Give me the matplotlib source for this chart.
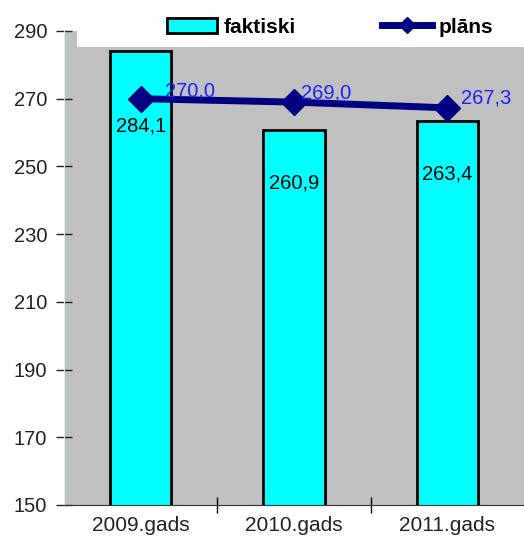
import matplotlib.pyplot as plt
from matplotlib.patches import Rectangle
from matplotlib.lines import Line2D

plt.rcParams['font.family'] = ['Liberation Sans', 'DejaVu Sans']

years = ["2009.gads", "2010.gads", "2011.gads"]
faktiski = [284.1, 260.9, 263.4]
plans = [270.0, 269.0, 267.3]
fakt_labels = ["284,1", "260,9", "263,4"]
plan_labels = ["270,0", "269,0", "267,3"]

fig = plt.figure(figsize=(5.24, 5.41), dpi=100)
ax = fig.add_axes([64 / 524, 1 - 505 / 541, 1 - 64 / 524, (505 - 31) / 541])
ax.set_facecolor("#c0c0c0")

x = range(len(years))
ax.bar(x, faktiski, width=0.4, color="#00ffff", edgecolor="black", linewidth=2, zorder=2)
ax.plot(x, plans, color="#000080", linewidth=5, marker="D", markersize=13, zorder=4)

# white strip on top where the legend sits
ax.add_patch(Rectangle((-0.415, 285.3), 3.0, 10, facecolor="white", edgecolor="none",
                       zorder=3, clip_on=True))

bar_off = [-75, -53, -53]
for i, (v, t) in enumerate(zip(faktiski, fakt_labels)):
    ax.annotate(t, (i, v), xytext=(0, bar_off[i]), textcoords="offset pixels",
                ha="center", va="center", fontsize=14.5, color="black", zorder=5)

line_off = [(24, 8), (7, 9), (14, 10)]
for i, (v, t) in enumerate(zip(plans, plan_labels)):
    ax.annotate(t, (i, v), xytext=line_off[i], textcoords="offset pixels",
                ha="left", va="center", fontsize=14.5, color="#2020ff", zorder=5)

ax.set_xlim(-0.5, 2.5)
ax.set_ylim(150, 290)
ax.set_yticks(range(150, 291, 20))
ax.set_xticks(list(x))
ax.set_xticklabels(years)
ax.set_xticks([0.5, 1.5], minor=True)
ax.tick_params(axis="x", which="major", length=0, labelsize=15, pad=8, colors="#222222")
ax.tick_params(axis="x", which="minor", direction="inout", length=12, width=1, color="black")
ax.tick_params(axis="y", direction="inout", length=12, width=1, labelsize=14.5,
               colors="#222222", pad=6)

for s in ["top", "right"]:
    ax.spines[s].set_visible(False)
ax.spines["left"].set_color("#d8f0f0")
ax.spines["bottom"].set_color("#333333")

handles = [
    Rectangle((0, 0), 1, 1, facecolor="#00ffff", edgecolor="black", linewidth=2),
    Line2D([0], [0], color="#000080", linewidth=5, marker="D", markersize=8),
]
leg = fig.legend(handles, ["faktiski", "plāns"], loc="center", ncol=2,
                 bbox_to_anchor=(330 / 524, 1 - 27 / 541), frameon=False,
                 prop={"weight": "bold", "size": 15}, handlelength=2.4,
                 handletextpad=0.33, columnspacing=4.1)

fig.savefig("out.png", dpi=100)
